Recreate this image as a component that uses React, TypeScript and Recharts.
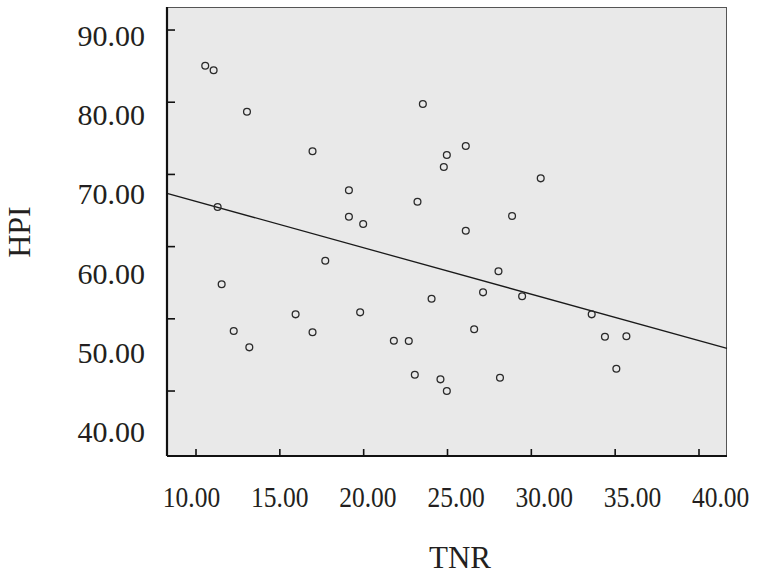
import React from "react";
import {
  ScatterChart,
  Scatter,
  XAxis,
  YAxis,
  ReferenceArea,
  ReferenceLine,
} from "recharts";

// TNR (x) and HPI (y) values
const tnr = [
  10.55, 11.05, 13.04, 23.53, 16.95, 26.09, 24.96, 24.78, 19.12, 30.56,
  11.29, 23.21, 19.12, 19.97, 26.09, 28.85, 17.71, 28.04, 11.53, 27.12,
  29.45, 24.05, 15.94, 19.79, 33.6, 12.25, 16.95, 26.59, 21.8, 22.69,
  34.39, 35.67, 13.18, 35.07, 23.05, 24.58, 28.13, 24.96,
];
const hpi = [
  85.06, 84.42, 78.68, 79.75, 73.2, 73.93, 72.69, 71.02, 67.8, 69.46,
  65.48, 66.22, 64.14, 63.13, 62.2, 64.24, 58.05, 56.58, 54.78, 53.67,
  53.12, 52.77, 50.62, 50.9, 50.62, 48.31, 48.13, 48.55, 46.97, 46.93,
  47.52, 47.58, 46.05, 43.09, 42.26, 41.62, 41.84, 40.0,
];

// fitted regression line endpoints (at the plot edges)
const fitX = [8.27, 41.67];
const fitY = [67.38, 45.91];

// tick values and labels
const xTicks = [10, 15, 20, 25, 30, 35, 40];
const yTicks = [40, 50, 60, 70, 80, 90];
const xTickLabels = ["10.00", "15.00", "20.00", "25.00", "30.00", "35.00", "40.00"];
const yTickLabels = ["40.00", "50.00", "60.00", "70.00", "80.00", "90.00"];

const xTitle = "TNR";
const yTitle = "HPI";

const points = tnr.map((x, i) => ({ x, y: hpi[i] }));
const noPoints: { x: number; y: number }[] = [];

const FONT = '"Liberation Serif", "DejaVu Serif", serif';
const TEXT = "#231f20";

const EmptyTick = () => <g />;

const XLabelTick = (props: any) => {
  const { x, y, payload } = props;
  const idx = xTicks.indexOf(payload.value);
  return (
    <g transform={`translate(${x},${y})`}>
      <text
        transform="scale(0.85,1)"
        x={0}
        y={0}
        textAnchor="middle"
        dy="0.71em"
        fontFamily={FONT}
        fontSize={30}
        fill={TEXT}
      >
        {idx >= 0 ? xTickLabels[idx] : ""}
      </text>
    </g>
  );
};

const YLabelTick = (props: any) => {
  const { x, y, payload } = props;
  const idx = yTicks.indexOf(payload.value);
  return (
    <text
      x={x}
      y={y}
      textAnchor="end"
      dy="0.355em"
      fontFamily={FONT}
      fontSize={30}
      fill={TEXT}
    >
      {idx >= 0 ? yTickLabels[idx] : ""}
    </text>
  );
};

const Marker = (props: any) => {
  const { cx, cy } = props;
  if (cx == null || cy == null) return null;
  return (
    <circle cx={cx} cy={cy} r={3.4} fill="none" stroke="#2a2a2a" strokeWidth={1.3} />
  );
};

export default function App() {
  return (
    <div
      style={{
        position: "absolute",
        left: 0,
        top: 0,
        width: 769,
        height: 574,
        background: "#ffffff",
      }}
    >
      <ScatterChart
        width={769}
        height={574}
        margin={{ top: 7, right: 42, bottom: 116, left: 165 }}
      >
        <ReferenceArea
          xAxisId="d"
          yAxisId="d"
          x1={fitX[0]}
          x2={fitX[1]}
          y1={31.0}
          y2={93.19}
          fill="#e9e9e9"
          fillOpacity={1}
          stroke="#555555"
          strokeWidth={2}
          ifOverflow="hidden"
        />
        <XAxis
          xAxisId="d"
          type="number"
          dataKey="x"
          domain={[8.27, 41.67]}
          allowDataOverflow
          ticks={xTicks}
          interval={0}
          height={1}
          tick={<EmptyTick />}
          tickSize={-7}
          tickLine={{ stroke: "#111", strokeWidth: 1.6 }}
          axisLine={{ stroke: "#111", strokeWidth: 2.2 }}
        />
        <XAxis
          xAxisId="l"
          type="number"
          dataKey="x"
          domain={[8.61, 40.36]}
          allowDataOverflow
          ticks={xTicks}
          interval={0}
          height={1}
          axisLine={false}
          tickLine={false}
          tickSize={0}
          tickMargin={29}
          tick={<XLabelTick />}
          label={{
            content: () => (
              <text
                x={460}
                y={568}
                textAnchor="middle"
                fontFamily={FONT}
                fontSize={31}
                fill={TEXT}
              >
                {xTitle}
              </text>
            ),
          }}
        />
        <YAxis
          yAxisId="d"
          type="number"
          dataKey="y"
          domain={[31.0, 93.19]}
          allowDataOverflow
          ticks={yTicks}
          interval={0}
          width={1}
          tick={<EmptyTick />}
          tickSize={-8}
          tickLine={{ stroke: "#111", strokeWidth: 1.6 }}
          axisLine={{ stroke: "#111", strokeWidth: 2.2 }}
        />
        <YAxis
          yAxisId="l"
          type="number"
          dataKey="y"
          domain={[36.91, 93.53]}
          allowDataOverflow
          ticks={yTicks}
          interval={0}
          width={1}
          axisLine={false}
          tickLine={false}
          tickSize={0}
          tickMargin={21}
          tick={<YLabelTick />}
          label={{
            content: () => (
              <text
                x={30}
                y={232}
                transform="rotate(-90 30 232)"
                textAnchor="middle"
                fontFamily={FONT}
                fontSize={32}
                fill={TEXT}
              >
                {yTitle}
              </text>
            ),
          }}
        />
        <ReferenceLine
          xAxisId="d"
          yAxisId="d"
          segment={[
            { x: fitX[0], y: fitY[0] },
            { x: fitX[1], y: fitY[1] },
          ]}
          stroke="#1a1a1a"
          strokeWidth={1.3}
          ifOverflow="visible"
        />
        <Scatter
          xAxisId="l"
          yAxisId="l"
          data={noPoints}
          isAnimationActive={false}
        />
        <Scatter
          xAxisId="d"
          yAxisId="d"
          data={points}
          shape={<Marker />}
          isAnimationActive={false}
        />
      </ScatterChart>
    </div>
  );
}
